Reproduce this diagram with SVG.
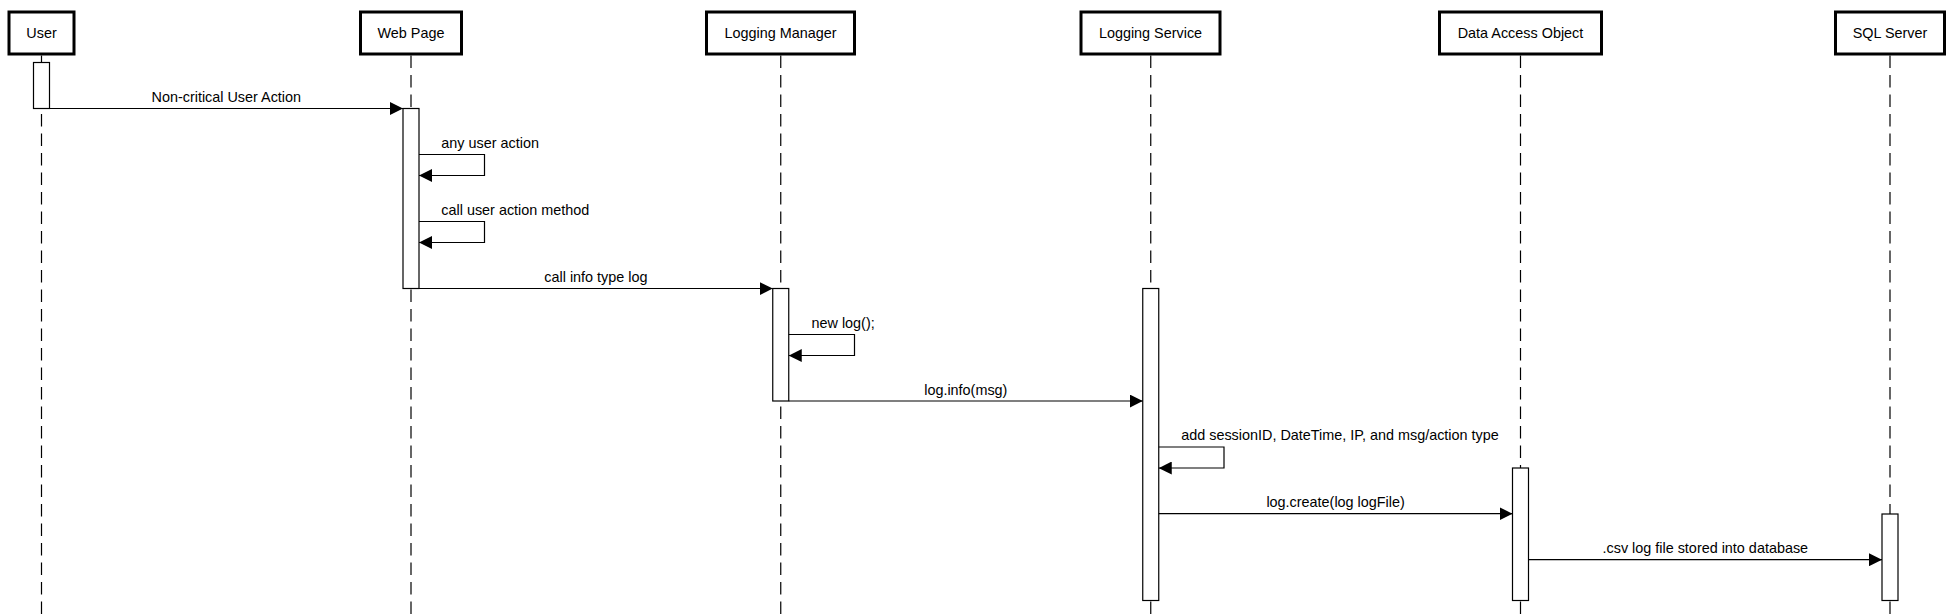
<svg xmlns="http://www.w3.org/2000/svg" width="1954" height="616" viewBox="0 0 1954 616">
<defs>
<marker id="arr" markerUnits="userSpaceOnUse" markerWidth="13" markerHeight="13" refX="13" refY="6.5" orient="auto">
<path d="M0,0 L13,6.5 L0,13 z" fill="#000"/>
</marker>
<style>
text{font-family:"Liberation Sans",Arial,sans-serif;font-size:14.4px;fill:#000}
.box{fill:#fff;stroke:#000;stroke-width:3}
.life{stroke:#000;stroke-width:1.2;stroke-dasharray:12.5 7;fill:none}
.act{fill:#fff;stroke:#000;stroke-width:1.2}
.msg{stroke:#000;stroke-width:1.2;fill:none;marker-end:url(#arr)}
.c{text-anchor:middle}
</style>
</defs>
<rect width="1954" height="616" fill="#fff"/>
<g id="lifelines">
<line class="life" x1="41.5" y1="55.5" x2="41.5" y2="616"/>
<line class="life" x1="411" y1="55.5" x2="411" y2="616"/>
<line class="life" x1="780.75" y1="55.5" x2="780.75" y2="616"/>
<line class="life" x1="1150.75" y1="55.5" x2="1150.75" y2="616"/>
<line class="life" x1="1520.5" y1="55.5" x2="1520.5" y2="616"/>
<line class="life" x1="1890" y1="55.5" x2="1890" y2="616"/>
</g>
<g id="user"><rect class="box" x="9" y="12" width="65" height="42"/><text class="c" x="41.5" y="38.3">User</text><rect class="act" x="33.5" y="62.5" width="16" height="46"/></g>
<g id="webpage"><rect class="box" x="360.5" y="12" width="101" height="42"/><text class="c" x="411" y="38.3">Web Page</text><rect class="act" x="403" y="108.5" width="16" height="180"/></g>
<g id="loggingmanager"><rect class="box" x="706.5" y="12" width="148" height="42"/><text class="c" x="780.5" y="38.3">Logging Manager</text><rect class="act" x="772.75" y="288.5" width="16" height="112.5"/></g>
<g id="loggingservice"><rect class="box" x="1081" y="12" width="139" height="42"/><text class="c" x="1150.5" y="38.3">Logging Service</text><rect class="act" x="1142.75" y="288.5" width="16" height="312"/></g>
<g id="dao"><rect class="box" x="1439.5" y="12" width="162" height="42"/><text class="c" x="1520.5" y="38.3">Data Access Object</text><rect class="act" x="1512.5" y="468" width="16" height="132.5"/></g>
<g id="sqlserver"><rect class="box" x="1835.5" y="12" width="109" height="42"/><text class="c" x="1890" y="38.3">SQL Server</text><rect class="act" x="1882" y="514" width="16" height="86.5"/></g>
<g id="connectors">
<line class="msg" x1="49.5" y1="108.5" x2="403" y2="108.5"/>
<text class="c" x="226.3" y="102">Non-critical User Action</text>
<path class="msg" d="M419,154.5 H484.5 V175.5 H419"/>
<text x="441.3" y="147.5">any user action</text>
<path class="msg" d="M419,221.5 H484.5 V242.5 H419"/>
<text x="441.3" y="215">call user action method</text>
<line class="msg" x1="419" y1="288.5" x2="772.75" y2="288.5"/>
<text class="c" x="595.9" y="282.3">call info type log</text>
<path class="msg" d="M788.75,334.5 H854.5 V355.5 H788.75"/>
<text x="811.5" y="328.3">new log();</text>
<line class="msg" x1="788.75" y1="401" x2="1142.75" y2="401"/>
<text class="c" x="965.8" y="395">log.info(msg)</text>
<path class="msg" d="M1158.75,447 H1224 V468 H1158.75"/>
<text x="1181.2" y="440">add sessionID, DateTime, IP, and msg/action type</text>
<line class="msg" x1="1158.75" y1="513.7" x2="1512.5" y2="513.7"/>
<text class="c" x="1335.6" y="507.2">log.create(log logFile)</text>
<line class="msg" x1="1528.5" y1="559.7" x2="1882" y2="559.7"/>
<text class="c" x="1705.3" y="552.8">.csv log file stored into database</text>
</g>
</svg>
